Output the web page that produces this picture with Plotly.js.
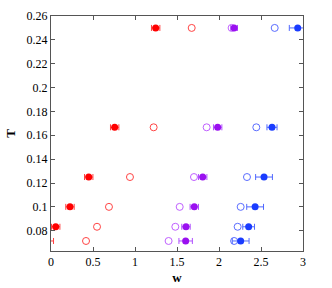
<!DOCTYPE html>
<html><head><meta charset="utf-8">
<script src="https://cdn.plot.ly/plotly-3.0.1.min.js"></script>
<style>html,body{margin:0;padding:0;background:#fff}#chart{width:332px;height:288px}</style>
</head><body><div id="chart"></div>
<script>
const T = [0.25, 0.1667, 0.125, 0.1, 0.0833, 0.0714];
const redFilled = [1.246, 0.758, 0.449, 0.226, 0.056, -0.05];
const redFilledErr = [0.05, 0.05, 0.05, 0.05, 0.05, 0.08];
const redOpen = [1.675, 1.222, 0.94, 0.69, 0.548, 0.417];
const purpleOpen = [2.15, 1.853, 1.702, 1.532, 1.48, 1.40];
const purpleFilled = [2.18, 1.984, 1.806, 1.706, 1.607, 1.603];
const purpleFilledErr = [0.04, 0.05, 0.05, 0.05, 0.05, 0.08];
const blueOpen = [2.663, 2.444, 2.333, 2.258, 2.222, 2.18];
const blueFilled = [2.937, 2.631, 2.536, 2.43, 2.353, 2.258];
const blueFilledErr = [0.1, 0.06, 0.1, 0.1, 0.07, 0.1];

function openTrace(x, color){
  return {x: x, y: T, type:'scatter', mode:'markers', cliponaxis:true,
    marker:{symbol:'circle-open', size:7, color:color, line:{width:1, color:color}}};
}
function filledTrace(x, err, color, errColor){
  return {x: x, y: T, type:'scatter', mode:'markers', cliponaxis:true,
    marker:{symbol:'circle', size:7, color:color},
    error_x:{type:'data', array:err, visible:true, color:errColor, thickness:1, width:3}};
}
const data = [
  filledTrace(redFilled, redFilledErr, '#ff0000', '#ff4040'),
  openTrace(redOpen, '#ff4444'),
  openTrace(purpleOpen, '#c060ff'),
  filledTrace(purpleFilled, purpleFilledErr, '#9a10f0', '#b050ff'),
  openTrace(blueOpen, '#5a6cff'),
  filledTrace(blueFilled, blueFilledErr, '#1a3cff', '#5068ff')
];
const axisCommon = {showgrid:false, zeroline:false, showline:true, mirror:'ticks',
  linecolor:'#555', linewidth:1, ticks:'inside', ticklen:4, tickcolor:'#555',
  tickfont:{family:'Liberation Serif, Times New Roman, serif', size:12, color:'#000'}};
const layout = {
  width:332, height:288, showlegend:false,
  paper_bgcolor:'#fff', plot_bgcolor:'#fff',
  margin:{l:51, r:29, t:16, b:37},
  xaxis: Object.assign({}, axisCommon, {range:[0,3], tickvals:[0,0.5,1,1.5,2,2.5,3],
    ticktext:['0','0.5','1','1.5','2','2.5','3'],
    title:{text:'<b>w</b>', standoff:4, font:{family:'Liberation Serif, Times New Roman, serif', size:13, color:'#000'}}}),
  yaxis: Object.assign({}, axisCommon, {range:[0.063,0.26],
    tickvals:[0.08,0.1,0.12,0.14,0.16,0.18,0.2,0.22,0.24,0.26],
    ticktext:['0.08','0.1','0.12','0.14','0.16','0.18','0.2','0.22','0.24','0.26'],
    title:{text:'<b>T</b>', standoff:8, font:{family:'Liberation Serif, Times New Roman, serif', size:13, color:'#000'}}})
};
Plotly.newPlot('chart', data, layout, {displayModeBar:false, staticPlot:true});
</script></body></html>
